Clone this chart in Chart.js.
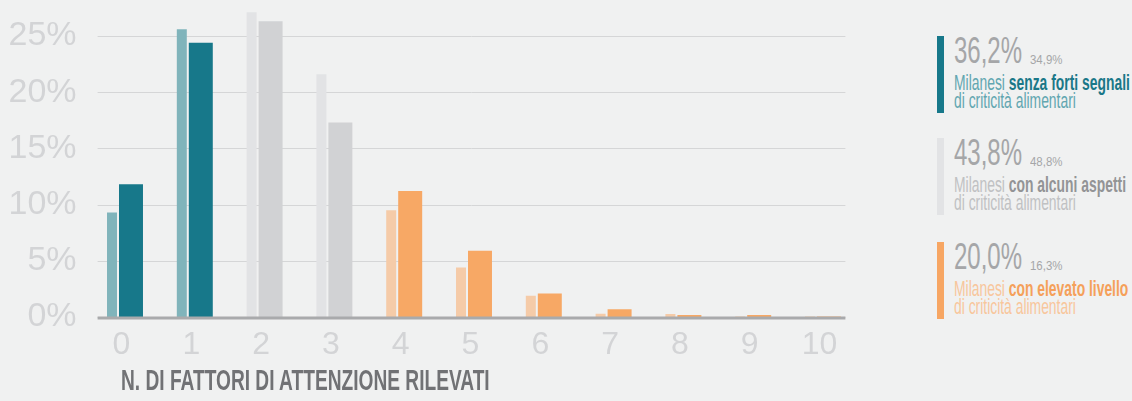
<!DOCTYPE html>
<html>
<head>
<meta charset="utf-8">
<script src="https://cdn.jsdelivr.net/npm/chart.js@4/dist/chart.umd.min.js"></script>
<style>
body { margin:0; background:#f0f1f1; width:1132px; height:401px; overflow:hidden; position:relative;
       font-family:'Liberation Sans Narrow','Liberation Sans',sans-serif; }
#myChart { position:absolute; left:0; top:0; }
.fit { position:absolute; white-space:nowrap; width:max-content; transform-origin:0 0; }
.bar { position:absolute; left:937px; width:7px; height:77px; }
.big { left:954px; font-size:36px; line-height:36px; color:#a5a6a8; }
.small { left:1030px; font-size:12.5px; line-height:12.5px; color:#a5a6a8; }
.txt { left:954px; font-size:22px; line-height:18px; }
.txt b { font-weight:bold; }
#xTitle { left:121px; top:366px; font-size:29px; line-height:29px; font-weight:bold; color:#717275; }
</style>
</head>
<body>
<canvas id="myChart" width="900" height="401"></canvas>
<div id="xTitle" class="fit">N. DI FATTORI DI ATTENZIONE RILEVATI</div>
<script>
var categories = ['0', '1', '2', '3', '4', '5', '6', '7', '8', '9', '10'];
var previousShare = [9.3, 25.6, 27.1, 21.6, 9.5, 4.4, 1.9, 0.3, 0.27, 0.05, 0.05];
var currentShare = [11.8, 24.4, 26.3, 17.3, 11.2, 5.9, 2.1, 0.7, 0.18, 0.18, 0.05];
var colorGroup = [0, 0, 1, 1, 2, 2, 2, 2, 2, 2, 2];
var darkColors = ['#17788a', '#d1d2d4', '#f7a865'];
var lightColors = ['#80b4bb', '#e2e3e5', '#f5cba8'];
var yTicks = [0, 5, 10, 15, 20, 25];
var yMax = 28.2;

var legendShare = ['36,2%', '43,8%', '20,0%'];
var legendPrevShare = ['34,9%', '48,8%', '16,3%'];
var legendBold = ['senza forti segnali', 'con alcuni aspetti', 'con elevato livello'];
var legendBarColor = ['#17788a', '#e2e3e5', '#f7a663'];
var legendTextColor = ['#62a6b0', '#c0c1c3', '#f8c69c'];
var legendBoldColor = ['#1a7888', '#939496', '#f5a05a'];
var legendTop = [36, 138, 242];

var tickFont = "'Liberation Sans Narrow', 'Liberation Sans', sans-serif";

function colorsFor(palette) {
	var out = [];
	for (var i = 0; i < colorGroup.length; i++) {
		out[i] = palette[colorGroup[i]];
	}
	return out;
}

// griglia e linea di base un po' piu corte dell'area del grafico
var shortGrid = {
	id: 'shortGrid',
	beforeDatasetsDraw: function (c) {
		var a = c.chartArea, y = c.scales.y, g = c.ctx;
		g.save();
		g.strokeStyle = '#d5d6d7';
		g.lineWidth = 1;
		y.ticks.forEach(function (t) {
			var p = Math.round(y.getPixelForValue(t.value)) + 0.5;
			g.beginPath();
			g.moveTo(a.left + 11, p);
			g.lineTo(a.right - 9, p);
			g.stroke();
		});
		g.restore();
	},
	afterDatasetsDraw: function (c) {
		var a = c.chartArea, g = c.ctx;
		var p = c.scales.y.getPixelForValue(0) + 1;
		g.save();
		g.strokeStyle = '#a9aaac';
		g.lineWidth = 3;
		g.beginPath();
		g.moveTo(a.left + 11, p);
		g.lineTo(a.right - 9, p);
		g.stroke();
		g.restore();
	}
};

var ctx = document.getElementById('myChart').getContext('2d');
var chart = new Chart(ctx, {
	type: 'bar',
	data: {
		labels: categories,
		datasets: [{
			data: previousShare,
			backgroundColor: colorsFor(lightColors),
			categoryPercentage: 0.544,
			barPercentage: 0.526
		}, {
			data: currentShare,
			backgroundColor: colorsFor(darkColors),
			categoryPercentage: 0.544,
			barPercentage: 1.263
		}]
	},
	plugins: [shortGrid],
	options: {
		responsive: false,
		animation: false,
		devicePixelRatio: 1,
		layout: { padding: { left: 0, right: 45.6, top: 0, bottom: 0 } },
		plugins: { legend: { display: false }, tooltip: { enabled: false } },
		scales: {
			x: {
				offset: true,
				grid: { display: false, drawTicks: false },
				border: { display: false },
				ticks: { color: '#d3d4d6', padding: 9, font: { family: tickFont, size: 32 } },
				afterFit: function (s) { s.height = 84; s.paddingLeft = 0; s.paddingRight = 0; }
			},
			y: {
				min: 0,
				max: yMax,
				grid: { display: false, drawTicks: false },
				border: { display: false },
				afterBuildTicks: function (s) {
					s.ticks = yTicks.map(function (v) { return { value: v }; });
				},
				ticks: {
					color: '#d3d4d6',
					padding: 10,
					font: { family: tickFont, size: 34 },
					callback: function (v) { return v + '%'; }
				},
				afterFit: function (s) { s.width = 86.6; s.paddingTop = 0; s.paddingBottom = 0; }
			}
		}
	}
});

// legenda a destra, fatta in html
var bigScale = 0, smallScale = 0, txtScale = 0;
for (var k = 0; k < legendShare.length; k++) {
	var T = legendTop[k];

	var bar = document.createElement('div');
	bar.className = 'bar';
	bar.style.top = T + 'px';
	bar.style.background = legendBarColor[k];
	document.body.appendChild(bar);

	var big = document.createElement('div');
	big.className = 'fit big';
	big.style.top = (T - 3.5) + 'px';
	big.textContent = legendShare[k];
	document.body.appendChild(big);
	if (!bigScale) bigScale = 68 / big.offsetWidth;
	big.style.transform = 'scaleX(' + bigScale + ')';

	var small = document.createElement('div');
	small.className = 'fit small';
	small.style.top = (T + 17.5) + 'px';
	small.textContent = legendPrevShare[k];
	document.body.appendChild(small);
	if (!smallScale) smallScale = 32 / small.offsetWidth;
	small.style.transform = 'scaleX(' + smallScale + ')';

	var txt = document.createElement('div');
	txt.className = 'fit txt';
	txt.style.top = (T + 38.4) + 'px';
	txt.style.color = legendTextColor[k];
	txt.innerHTML = 'Milanesi <b style="color:' + legendBoldColor[k] + '">' + legendBold[k] + '</b><br>di criticità alimentari';
	document.body.appendChild(txt);
	if (!txtScale) txtScale = 176 / txt.offsetWidth;
	txt.style.transform = 'scaleX(' + txtScale + ')';
}

var xt = document.getElementById('xTitle');
xt.style.transform = 'scaleX(' + (369 / xt.offsetWidth) + ')';
</script>
</body>
</html>
